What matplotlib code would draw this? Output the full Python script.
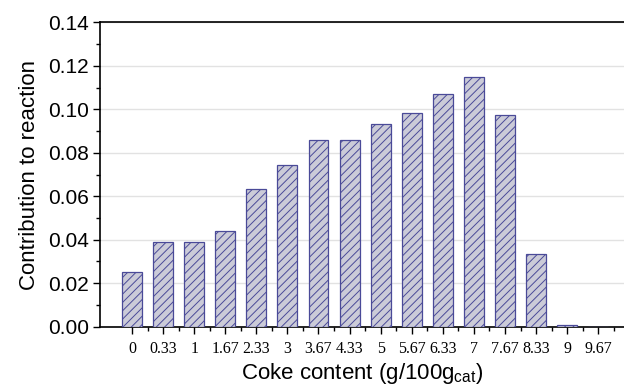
import numpy as np
import matplotlib.pyplot as plt
from matplotlib.ticker import MultipleLocator

coke = ["0", "0.33", "1", "1.67", "2.33", "3", "3.67", "4.33",
        "5", "5.67", "6.33", "7", "7.67", "8.33", "9", "9.67"]
contribution = [0.025, 0.039, 0.039, 0.044, 0.0635, 0.0745, 0.086, 0.086,
                0.093, 0.0985, 0.107, 0.115, 0.0975, 0.0335, 0.0006, 0.0]

plt.rcParams["font.family"] = ["Liberation Sans", "DejaVu Sans"]
plt.rcParams["hatch.linewidth"] = 0.7

fig = plt.figure(figsize=(6.24, 3.87), dpi=100)
ax = fig.add_axes([100 / 624, 60.3 / 387, 524 / 624, 304.4 / 387])

x = np.arange(len(coke))
ax.bar(x, contribution, width=0.64, color="#cbcbd8", edgecolor="#4a4a98",
       hatch="////", linewidth=0.9, zorder=3)

ax.set_xlim(-1.03, 15.83)
ax.set_ylim(0, 0.14)

ax.yaxis.set_major_locator(MultipleLocator(0.02))
ax.yaxis.set_minor_locator(MultipleLocator(0.01))
ax.set_yticklabels([f"{v:.2f}" for v in ax.get_yticks()])
ax.grid(axis="y", color="#e2e2e2", linewidth=1.0, zorder=0)

ax.set_xticks(x)
ax.set_xticklabels(coke, family="Liberation Serif")
ax.set_xticks(x + 0.5, minor=True)

ax.tick_params(axis="both", which="major", direction="out", length=5,
               width=1.0, labelsize=15)
ax.tick_params(axis="y", which="major", pad=3)
ax.tick_params(axis="x", which="major", labelsize=11.5, pad=5)
ax.tick_params(axis="both", which="minor", direction="out", length=3, width=1.0)

for side in ["left", "bottom", "top"]:
    ax.spines[side].set_linewidth(1.2)
ax.spines["right"].set_visible(False)

ax.set_ylabel("Contribution to reaction", fontsize=16, labelpad=6)
ax.set_xlabel(r"Coke content (g/100g$_{\mathregular{cat}}$)", fontsize=16,
              labelpad=3)

fig.savefig("out.png", dpi=100)
